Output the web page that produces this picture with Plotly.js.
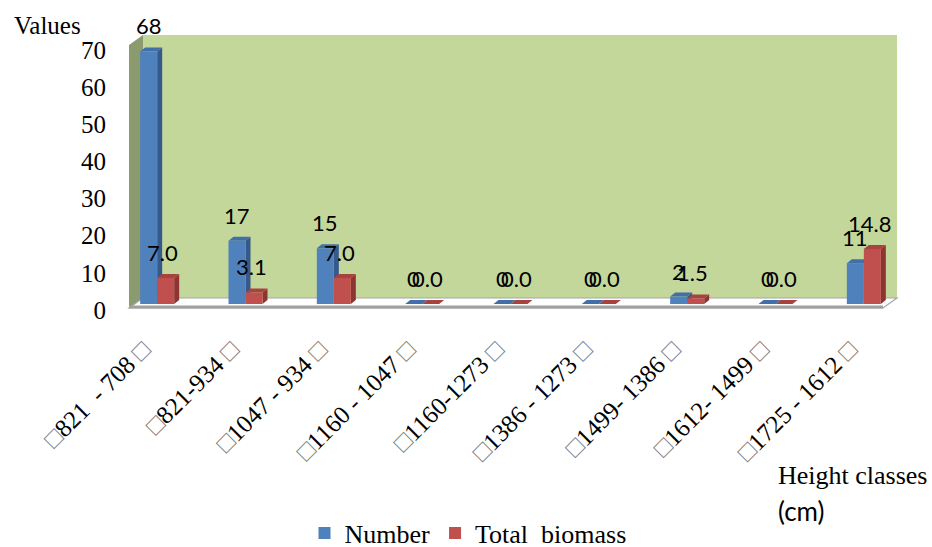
<!DOCTYPE html>
<html>
<head>
<meta charset="utf-8">
<script src="https://cdn.plot.ly/plotly-3.0.1.min.js"></script>
<style>
  html, body { margin: 0; padding: 0; background: #ffffff; }
  #chart { width: 932px; height: 547px; }
</style>
</head>
<body>
<div id="chart"></div>
<script>
// Height classes (cm) and the two series per class
const categories = [
  "821  - 708", "821-934", "1047 - 934", "1160 - 1047", "1160-1273",
  "1386 - 1273", "1499- 1386", "1612- 1499", "1725 - 1612"
];
const numberValues  = [68, 17, 15, 0, 0, 0, 2, 0, 11];
const biomassValues = [7.0, 3.1, 7.0, 0.0, 0.0, 0.0, 1.5, 0.0, 14.8];
const yTickValues = [0, 10, 20, 30, 40, 50, 60, 70];

// Page geometry
const W = 932, H = 547;
const M = { l: 113, r: 24, t: 44, b: 243, autoexpand: false };
const plotW = W - M.l - M.r;
const plotH = H - M.t - M.b;
const yMax = 70;

const BLUE = "#4f81bd", RED = "#c0504d";
const BLUE_SIDE = "#34598a", BLUE_TOP = "#416fa8";
const RED_SIDE = "#8e3533", RED_TOP = "#a8423f";

const serif = '"Liberation Serif", "DejaVu Serif", serif';
const sans = "Lato";

// pixel -> paper conversion for the decorative walls and floor
const px = p => (p - M.l) / plotW;
const py = p => (H - M.b - p) / plotH;
const paperPath = pts => "M" + pts.map(([x, y]) => px(x) + "," + py(y)).join("L") + "Z";

// tick labels are framed by a grey box glyph on each side
const box = '<span style="color:#808080">\u25A1</span>';
const tickText = categories.map(c => box + c + " " + box);

const bargap = 0.615;
const barW = (1 - bargap) / 2;           // width of one bar in category units
const depthX = 5 / (plotW / categories.length);  // 3D depth in data units
const depthY = 4 / (plotH / yMax);

const shapes = [];
// back wall
shapes.push({ type: "path", xref: "paper", yref: "paper", layer: "below",
  path: paperPath([[143, 35], [897, 35], [897, 298], [143, 298]]),
  fillcolor: "#c4d79b", line: { width: 0 } });
// side wall
shapes.push({ type: "path", xref: "paper", yref: "paper", layer: "below",
  path: paperPath([[129, 45], [143, 35], [143, 298], [129, 308]]),
  fillcolor: "#8c9a70", line: { width: 0 } });
// floor
shapes.push({ type: "path", xref: "paper", yref: "paper", layer: "below",
  path: paperPath([[129, 308], [143, 298], [897, 298], [883, 308]]),
  fillcolor: "#ffffff", line: { color: "#a6a6a6", width: 1.2 } });
shapes.push({ type: "line", xref: "paper", yref: "paper", layer: "below",
  x0: px(129), y0: py(307), x1: px(883), y1: py(307),
  line: { color: "#a0a0a0", width: 3 } });

// 3D side and top faces of each bar, built from the series values
function addFaces(values, seriesIdx, sideColor, topColor) {
  values.forEach((v, i) => {
    const left = i - barW + seriesIdx * barW;
    const right = left + barW;
    const side = `M${right},0L${right + depthX},${depthY}L${right + depthX},${v + depthY}L${right},${v}Z`;
    const top = `M${left},${v}L${left + depthX},${v + depthY}L${right + depthX},${v + depthY}L${right},${v}Z`;
    shapes.push({ type: "path", xref: "x", yref: "y", layer: "below", path: side,
      fillcolor: sideColor, line: { width: 0 } });
    shapes.push({ type: "path", xref: "x", yref: "y", layer: "below", path: top,
      fillcolor: topColor, line: { width: 0 } });
  });
}
addFaces(numberValues, 0, BLUE_SIDE, BLUE_TOP);
addFaces(biomassValues, 1, RED_SIDE, RED_TOP);

// value labels
const annotations = [];
numberValues.forEach((v, i) => {
  annotations.push({ x: i - barW / 2, y: v, xref: "x", yref: "y",
    text: String(v), showarrow: false, yanchor: "bottom", yshift: 10, xshift: 0,
    font: { family: sans, size: 22, color: "#000" } });
});
biomassValues.forEach((v, i) => {
  annotations.push({ x: i + barW / 2, y: v, xref: "x", yref: "y",
    text: v.toFixed(1), showarrow: false, yanchor: "bottom", yshift: 10, xshift: -3,
    font: { family: sans, size: 22, color: "#000" } });
});
// axis captions
annotations.push({ xref: "paper", yref: "paper", x: px(12), y: py(25),
  xanchor: "left", yanchor: "middle", showarrow: false, text: "Values",
  font: { family: serif, size: 25, color: "#000" } });
annotations.push({ xref: "paper", yref: "paper", x: px(776), y: py(476),
  xanchor: "left", yanchor: "middle", showarrow: false, text: "Height classes",
  font: { family: serif, size: 26, color: "#000" } });
annotations.push({ xref: "paper", yref: "paper", x: px(776), y: py(511),
  xanchor: "left", yanchor: "middle", showarrow: false, text: "(cm)",
  font: { family: sans, size: 26, color: "#000" } });

const traces = [
  { type: "bar", name: "Number", x: categories, y: numberValues,
    marker: { color: BLUE, line: { width: 0 } }, hoverinfo: "x+y" },
  { type: "bar", name: "Total  biomass", x: categories, y: biomassValues,
    marker: { color: RED, line: { width: 0 } }, hoverinfo: "x+y" }
];

const layout = {
  width: W, height: H,
  margin: M,
  font: { family: serif, color: "#000" },
  paper_bgcolor: "#ffffff",
  plot_bgcolor: "rgba(0,0,0,0)",
  barmode: "group",
  bargap: bargap,
  bargroupgap: 0,
  showlegend: true,
  legend: {
    orientation: "h", xref: "paper", yref: "paper",
    x: px(468), xanchor: "center", y: py(533), yanchor: "middle",
    font: { family: serif, size: 26, color: "#000" },
    bgcolor: "rgba(0,0,0,0)"
  },
  xaxis: {
    type: "category",
    tickvals: categories, ticktext: tickText,
    tickangle: -45,
    tickfont: { family: serif, size: 25, color: "#000" },
    ticklabelstandoff: 25,
    ticklabelshift: -14,
    showgrid: false, zeroline: false, showline: false, ticks: ""
  },
  yaxis: {
    range: [0, yMax],
    tickvals: yTickValues,
    tickfont: { family: serif, size: 25, color: "#000" },
    ticklabelshift: 6,
    ticklabelstandoff: 6,
    showgrid: false, zeroline: false, showline: false, ticks: ""
  },
  shapes: shapes,
  annotations: annotations
};

Plotly.newPlot("chart", traces, layout, { displayModeBar: false, staticPlot: true });
</script>
</body>
</html>
